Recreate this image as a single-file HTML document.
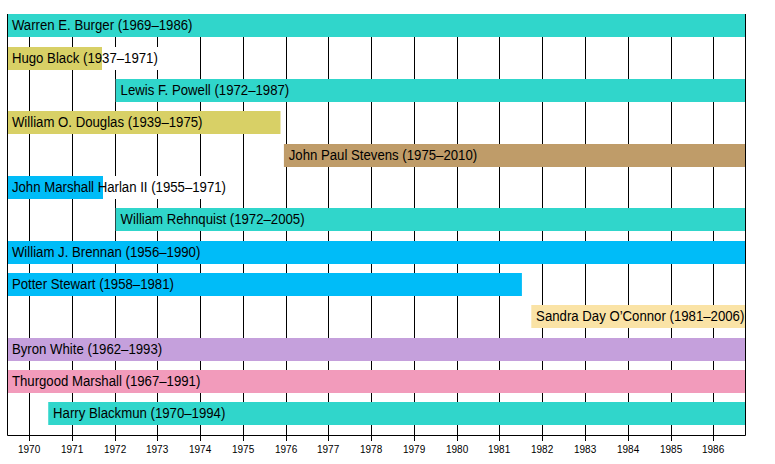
<!DOCTYPE html>
<html><head><meta charset="utf-8"><style>
html,body{margin:0;padding:0;background:#fff;}
body{width:775px;height:464px;overflow:hidden;}
svg{display:block;font-family:"Liberation Sans",sans-serif;}
.yl{font-size:10px;fill:#000;}
.t{font-size:13.2px;fill:#000;}
</style></head><body>
<svg width="775" height="464" viewBox="0 0 775 464">
<rect width="775" height="464" fill="#fff"/>
<line x1="29.50" y1="14.00" x2="29.50" y2="441" stroke="#000" stroke-width="1"/>
<text x="29.10" y="452.5" text-anchor="middle" class="yl">1970</text>
<line x1="72.50" y1="14.00" x2="72.50" y2="441" stroke="#000" stroke-width="1"/>
<text x="72.10" y="452.5" text-anchor="middle" class="yl">1971</text>
<line x1="115.50" y1="14.00" x2="115.50" y2="441" stroke="#000" stroke-width="1"/>
<text x="115.10" y="452.5" text-anchor="middle" class="yl">1972</text>
<line x1="157.50" y1="14.00" x2="157.50" y2="441" stroke="#000" stroke-width="1"/>
<text x="157.10" y="452.5" text-anchor="middle" class="yl">1973</text>
<line x1="200.50" y1="14.00" x2="200.50" y2="441" stroke="#000" stroke-width="1"/>
<text x="200.10" y="452.5" text-anchor="middle" class="yl">1974</text>
<line x1="243.50" y1="14.00" x2="243.50" y2="441" stroke="#000" stroke-width="1"/>
<text x="243.10" y="452.5" text-anchor="middle" class="yl">1975</text>
<line x1="286.50" y1="14.00" x2="286.50" y2="441" stroke="#000" stroke-width="1"/>
<text x="286.10" y="452.5" text-anchor="middle" class="yl">1976</text>
<line x1="328.50" y1="14.00" x2="328.50" y2="441" stroke="#000" stroke-width="1"/>
<text x="328.10" y="452.5" text-anchor="middle" class="yl">1977</text>
<line x1="371.50" y1="14.00" x2="371.50" y2="441" stroke="#000" stroke-width="1"/>
<text x="371.10" y="452.5" text-anchor="middle" class="yl">1978</text>
<line x1="414.50" y1="14.00" x2="414.50" y2="441" stroke="#000" stroke-width="1"/>
<text x="414.10" y="452.5" text-anchor="middle" class="yl">1979</text>
<line x1="457.50" y1="14.00" x2="457.50" y2="441" stroke="#000" stroke-width="1"/>
<text x="457.10" y="452.5" text-anchor="middle" class="yl">1980</text>
<line x1="499.50" y1="14.00" x2="499.50" y2="441" stroke="#000" stroke-width="1"/>
<text x="499.10" y="452.5" text-anchor="middle" class="yl">1981</text>
<line x1="542.50" y1="14.00" x2="542.50" y2="441" stroke="#000" stroke-width="1"/>
<text x="542.10" y="452.5" text-anchor="middle" class="yl">1982</text>
<line x1="585.50" y1="14.00" x2="585.50" y2="441" stroke="#000" stroke-width="1"/>
<text x="585.10" y="452.5" text-anchor="middle" class="yl">1983</text>
<line x1="628.50" y1="14.00" x2="628.50" y2="441" stroke="#000" stroke-width="1"/>
<text x="628.10" y="452.5" text-anchor="middle" class="yl">1984</text>
<line x1="671.50" y1="14.00" x2="671.50" y2="441" stroke="#000" stroke-width="1"/>
<text x="671.10" y="452.5" text-anchor="middle" class="yl">1985</text>
<line x1="713.50" y1="14.00" x2="713.50" y2="441" stroke="#000" stroke-width="1"/>
<text x="713.10" y="452.5" text-anchor="middle" class="yl">1986</text>
<rect x="7.11" y="14.00" width="187.54" height="23" fill="#fff"/>
<rect x="7.11" y="47.00" width="152.83" height="23" fill="#fff"/>
<rect x="115.82" y="79.00" width="175.57" height="23" fill="#fff"/>
<rect x="7.11" y="111.00" width="197.56" height="23" fill="#fff"/>
<rect x="283.90" y="144.00" width="195.40" height="23" fill="#fff"/>
<rect x="7.11" y="176.00" width="221.06" height="23" fill="#fff"/>
<rect x="115.82" y="208.00" width="190.96" height="23" fill="#fff"/>
<rect x="7.11" y="241.00" width="195.37" height="23" fill="#fff"/>
<rect x="7.11" y="273.00" width="168.97" height="23" fill="#fff"/>
<rect x="531.30" y="305.00" width="215.20" height="23" fill="#fff"/>
<rect x="7.11" y="338.00" width="157.22" height="23" fill="#fff"/>
<rect x="7.11" y="370.00" width="195.38" height="23" fill="#fff"/>
<rect x="48.23" y="402.00" width="179.22" height="23" fill="#fff"/>
<rect x="7.11" y="14.00" width="738.05" height="23" fill="#30d6cb"/>
<rect x="7.11" y="47.00" width="94.89" height="23" fill="#d8d066"/>
<rect x="115.82" y="79.00" width="629.34" height="23" fill="#30d6cb"/>
<rect x="7.11" y="111.00" width="273.39" height="23" fill="#d8d066"/>
<rect x="283.90" y="144.00" width="461.26" height="23" fill="#bf9c69"/>
<rect x="7.11" y="176.00" width="95.89" height="23" fill="#00bcf8"/>
<rect x="115.82" y="208.00" width="629.34" height="23" fill="#30d6cb"/>
<rect x="7.11" y="241.00" width="738.05" height="23" fill="#00bcf8"/>
<rect x="7.11" y="273.00" width="514.79" height="23" fill="#00bcf8"/>
<rect x="531.30" y="305.00" width="213.86" height="23" fill="#fae3a6"/>
<rect x="7.11" y="338.00" width="738.05" height="23" fill="#c5a0dc"/>
<rect x="7.11" y="370.00" width="738.05" height="23" fill="#f29bbb"/>
<rect x="48.23" y="402.00" width="696.93" height="23" fill="#30d6cb"/>
<path d="M7.5 14.00 V435.5 H745.5 V14.00" fill="none" stroke="#000" stroke-width="1"/>
<text transform="translate(11.91,30.00) scale(1,1.07)" class="t">Warren E. Burger (1969–1986)</text>
<text transform="translate(11.91,63.00) scale(1,1.07)" class="t">Hugo Black (1937–1971)</text>
<text transform="translate(120.62,95.00) scale(1,1.07)" class="t">Lewis F. Powell (1972–1987)</text>
<text transform="translate(11.91,127.00) scale(1,1.07)" class="t">William O. Douglas (1939–1975)</text>
<text transform="translate(288.70,160.00) scale(1,1.07)" class="t">John Paul Stevens (1975–2010)</text>
<text transform="translate(11.91,192.00) scale(1,1.07)" class="t">John Marshall Harlan II (1955–1971)</text>
<text transform="translate(120.62,224.00) scale(1,1.07)" class="t">William Rehnquist (1972–2005)</text>
<text transform="translate(11.91,257.00) scale(1,1.07)" class="t">William J. Brennan (1956–1990)</text>
<text transform="translate(11.91,289.00) scale(1,1.07)" class="t">Potter Stewart (1958–1981)</text>
<text transform="translate(536.10,321.00) scale(1,1.07)" class="t">Sandra Day O’Connor (1981–2006)</text>
<text transform="translate(11.91,354.00) scale(1,1.07)" class="t">Byron White (1962–1993)</text>
<text transform="translate(11.91,386.00) scale(1,1.07)" class="t">Thurgood Marshall (1967–1991)</text>
<text transform="translate(53.03,418.00) scale(1,1.07)" class="t">Harry Blackmun (1970–1994)</text>
</svg>
</body></html>
